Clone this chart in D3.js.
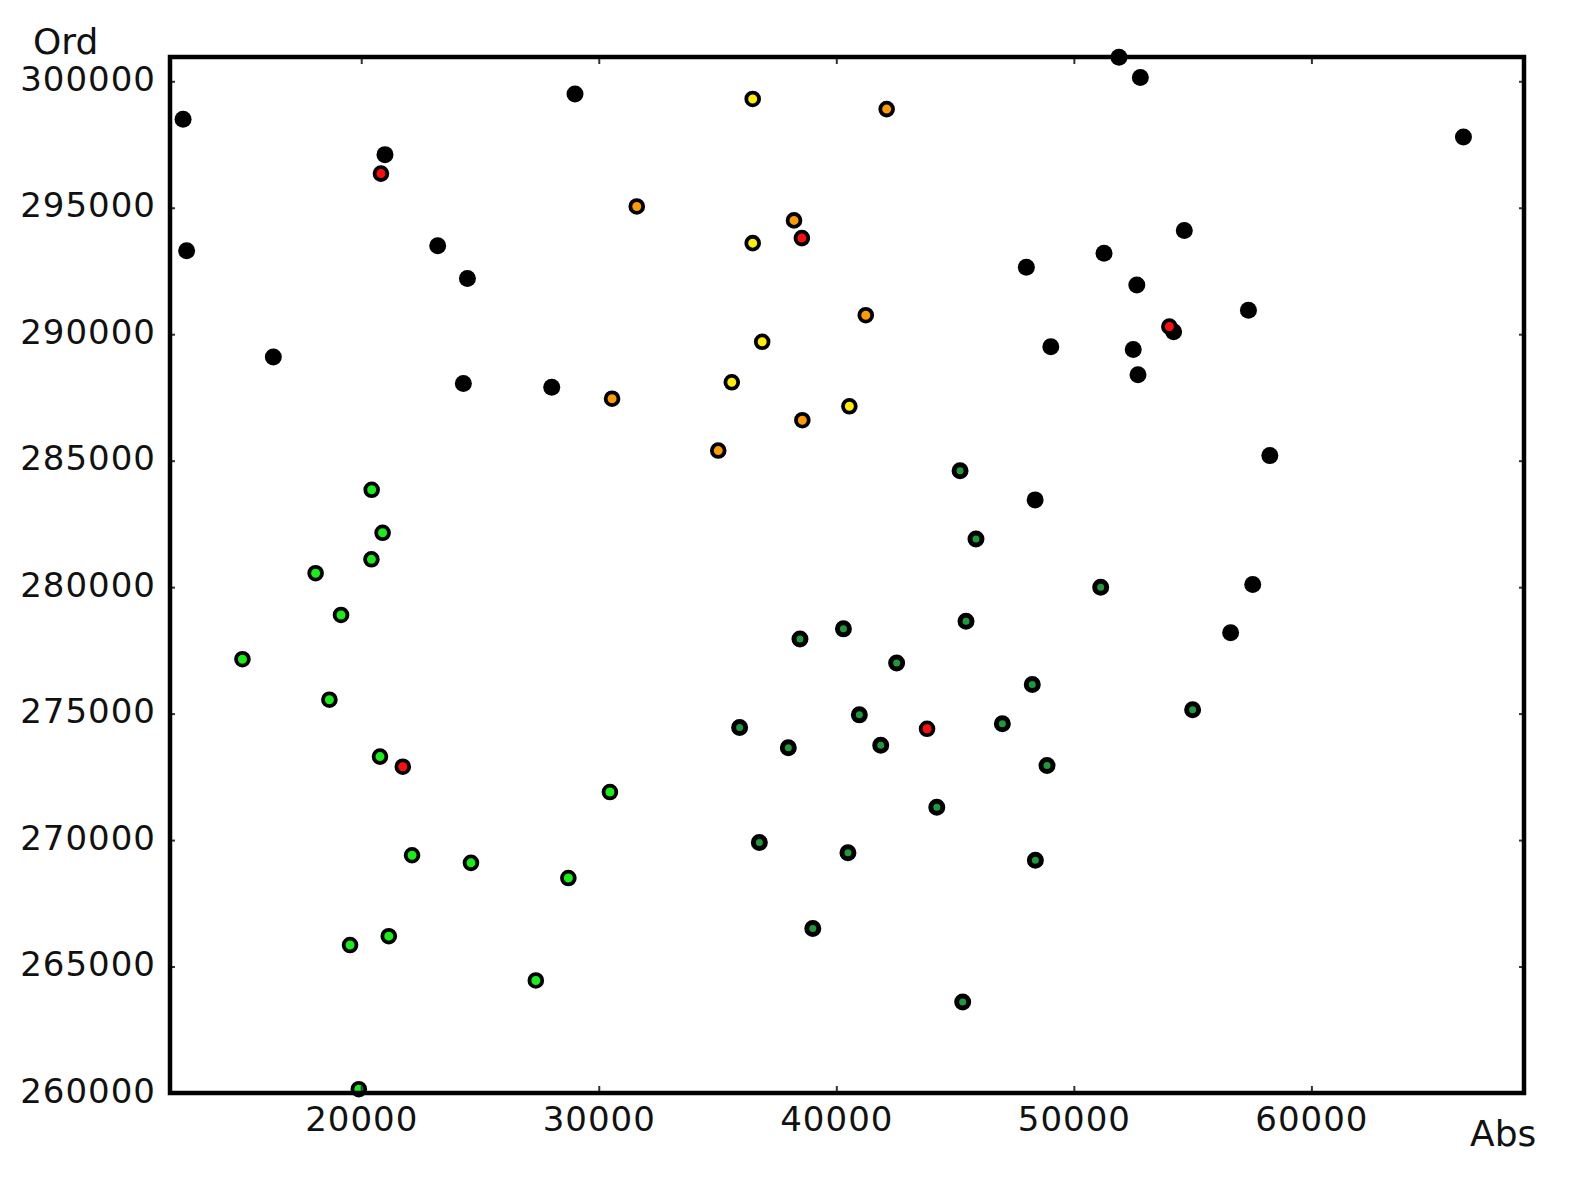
<!DOCTYPE html>
<html>
<head>
<meta charset="utf-8">
<script src="https://cdn.jsdelivr.net/npm/d3@7"></script>
<style>
  html, body { margin: 0; padding: 0; background: #fff; }
  svg { display: block; }
  text { font-family: "DejaVu Sans", sans-serif; fill: #111; }
</style>
</head>
<body>
<svg id="chart" width="1569" height="1192"></svg>
<script>
// ---- data (Abs, Ord) per colour group ----
const blackAbs = [12500, 21000, 29000, 12650, 23220, 24470, 16300, 24300, 28020, 51900, 52800, 66400, 54650, 51270, 52650, 57350, 54200, 52500, 52700, 48000, 49030, 48370, 58250, 57530, 56600];
const blackOrd = [298500, 297100, 299500, 293300, 293500, 292200, 289100, 288050, 287900, 300950, 300150, 297800, 294100, 293200, 291950, 290950, 290100, 289400, 288400, 292650, 289500, 283450, 285200, 280100, 278200];

const redAbs = [20830, 38550, 54020, 43820, 21750];
const redOrd = [296350, 293800, 290300, 274400, 272900];

const orangeAbs = [42120, 31600, 38220, 41240, 30560, 35030, 38570];
const orangeOrd = [298900, 295050, 294500, 290750, 287450, 285400, 286600];

const yellowAbs = [36480, 36480, 36880, 35600, 40550];
const yellowOrd = [299300, 293600, 289700, 288100, 287150];

const greenAbs = [20440, 20900, 20430, 18080, 19150, 15000, 18660, 20790, 30470, 22140, 24620, 28720, 19530, 21160, 27350, 19900];
const greenOrd = [283850, 282150, 281100, 280550, 278900, 277150, 275550, 273300, 271900, 269400, 269100, 268500, 265850, 266200, 264450, 260150];

const darkGreenAbs = [45210, 45880, 45460, 38470, 40300, 42540, 48250, 40970, 35930, 46990, 37980, 41870, 48870, 44230, 36760, 40490, 48380, 39010, 45320, 51130, 55000];
const darkGreenOrd = [284600, 281900, 278650, 277950, 278350, 277000, 276150, 274950, 274450, 274600, 273650, 273750, 272950, 271300, 269900, 269500, 269200, 266500, 263600, 280000, 275150];

const xTicks = [20000, 30000, 40000, 50000, 60000];
const yTicks = [260000, 265000, 270000, 275000, 280000, 285000, 290000, 295000, 300000];
const xLabel = "Abs";
const yLabel = "Ord";

// ---- layout ----
const pL = 170, pR = 1524, pT = 57, pB = 1093;
const svg = d3.select("#chart");

const x = d3.scaleLinear().domain([11950, 68950]).range([pL, pR]);
const y = d3.scaleLinear().domain([260000, 300960]).range([pB, pT]);

const groups = [
  { abs: blackAbs, ord: blackOrd, fill: "#000000", kind: "black" },
  { abs: darkGreenAbs, ord: darkGreenOrd, fill: "#1c9a3c", kind: "dark" },
  { abs: greenAbs, ord: greenOrd, fill: "#16f016", kind: "col" },
  { abs: orangeAbs, ord: orangeOrd, fill: "#ff9a00", kind: "col" },
  { abs: yellowAbs, ord: yellowOrd, fill: "#ffee00", kind: "col" },
  { abs: redAbs, ord: redOrd, fill: "#ff1010", kind: "col" }
];

const defs = svg.append("defs");
defs.append("filter").attr("id", "soft")
  .append("feGaussianBlur").attr("stdDeviation", 0.6);

// markers
const pts = svg.append("g").attr("filter", "url(#soft)");
groups.forEach(g => {
  const data = g.abs.map((a, i) => [a, g.ord[i]]);
  pts.selectAll(null).data(data).enter().append("circle")
    .attr("cx", d => x(d[0]))
    .attr("cy", d => y(d[1]))
    .attr("r", g.kind === "black" ? 8.5 : (g.kind === "dark" ? 6 : 6.4))
    .attr("fill", g.fill)
    .attr("stroke", "#000")
    .attr("stroke-width", g.kind === "black" ? 0 : (g.kind === "dark" ? 5 : 3.8));
});

// axes (inward ticks)
const axB = svg.append("g").attr("transform", `translate(0,${pB})`)
  .call(d3.axisBottom(x).tickValues(xTicks).tickSize(-7).tickFormat(d3.format("d")));
axB.select(".domain").remove();
axB.selectAll("text").attr("y", 26).attr("dy", "0.36em")
  .style("font-size", "34px").style("letter-spacing", "1px")
  .style("font-family", "DejaVu Sans, sans-serif").attr("fill", "#111");

const axT = svg.append("g").attr("transform", `translate(0,${pT})`)
  .call(d3.axisTop(x).tickValues(xTicks).tickSize(-7).tickFormat(""));
axT.select(".domain").remove();

const axL = svg.append("g").attr("transform", `translate(${pL},0)`)
  .call(d3.axisLeft(y).tickValues(yTicks).tickSize(-5).tickFormat(d3.format("d")));
axL.select(".domain").remove();
axL.selectAll("text").attr("x", -14).attr("y", -3).attr("dy", "0.36em")
  .style("font-size", "34px").style("letter-spacing", "1px")
  .style("font-family", "DejaVu Sans, sans-serif").attr("fill", "#111");

const axR = svg.append("g").attr("transform", `translate(${pR},0)`)
  .call(d3.axisRight(y).tickValues(yTicks).tickSize(-5).tickFormat(""));
axR.select(".domain").remove();

svg.selectAll(".tick line").attr("stroke", "#333").attr("stroke-width", 2);

// frame
svg.append("rect")
  .attr("x", pL).attr("y", pT)
  .attr("width", pR - pL).attr("height", pB - pT)
  .attr("fill", "none").attr("stroke", "#000").attr("stroke-width", 4.5);

// axis titles
svg.append("text").attr("x", 33).attr("y", 54)
  .style("font-size", "36px").text(yLabel);
svg.append("text").attr("x", 1470).attr("y", 1146)
  .style("font-size", "36px").text(xLabel);
</script>
</body>
</html>
